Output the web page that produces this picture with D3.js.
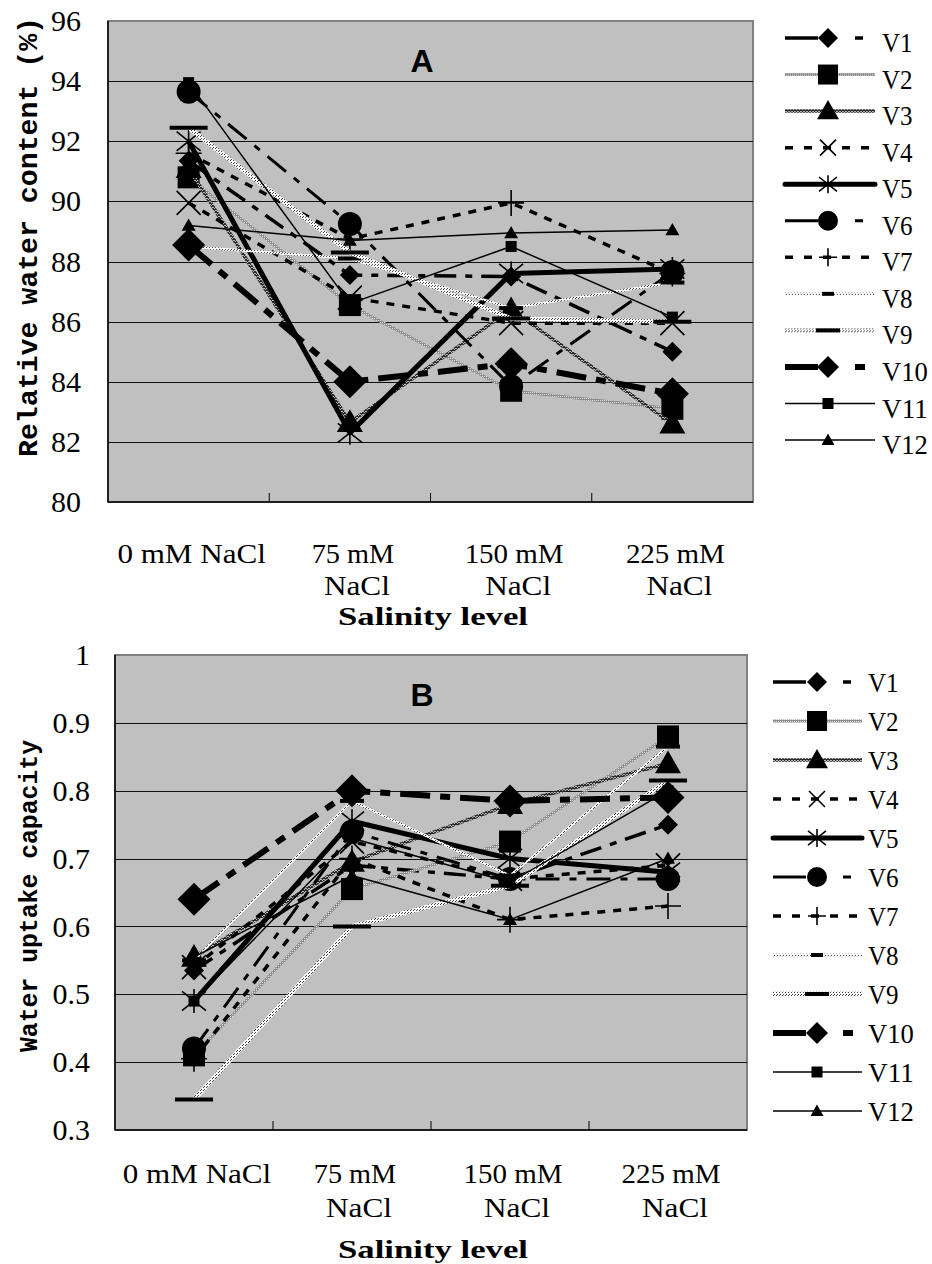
<!DOCTYPE html>
<html>
<head>
<meta charset="utf-8">
<script src="https://cdn.jsdelivr.net/npm/d3@7"></script>
<style>
  body { margin: 0; background: #fff; }
  svg { display: block; }
</style>
</head>
<body>
<div id="chart"></div>
<script>
// ---- data ----
const series = ["V1", "V2", "V3", "V4", "V5", "V6", "V7", "V8", "V9", "V10", "V11", "V12"];
const categories = [["0 mM NaCl"], ["75 mM", "NaCl"], ["150 mM", "NaCl"], ["225 mM", "NaCl"]];
const rwcTicks = [80, 82, 84, 86, 88, 90, 92, 94, 96];
const wucTicks = [0.3, 0.4, 0.5, 0.6, 0.7, 0.8, 0.9, 1];

// relative water content (%), one row per variety, columns = salinity levels
const rwcValues = [
  [91.35, 87.55, 87.5, 85.0],
  [90.8, 86.55, 83.7, 83.1],
  [91.1, 82.65, 86.4, 82.6],
  [89.95, 86.8, 85.95, 85.95],
  [92.0, 82.3, 87.6, 87.75],
  [93.65, 89.25, 83.85, 87.65],
  [91.6, 88.75, 89.95, 87.6],
  [88.5, 88.1, 86.45, 87.3],
  [92.45, 88.3, 86.1, 86.0],
  [88.55, 84.0, 84.6, 83.6],
  [93.95, 86.6, 88.5, 86.15],
  [89.2, 88.7, 88.95, 89.05]
];

// water uptake capacity
const wucValues = [
  [0.535, 0.69, 0.67, 0.75],
  [0.41, 0.655, 0.725, 0.88],
  [0.555, 0.695, 0.78, 0.84],
  [0.54, 0.725, 0.67, 0.69],
  [0.49, 0.755, 0.70, 0.68],
  [0.42, 0.74, 0.67, 0.67],
  [0.405, 0.70, 0.61, 0.63],
  [0.55, 0.785, 0.675, 0.865],
  [0.345, 0.60, 0.66, 0.815],
  [0.64, 0.80, 0.785, 0.79],
  [0.49, 0.73, 0.665, 0.80],
  [0.555, 0.675, 0.61, 0.70]
];

// line / marker look per variety
const styles = [
  { stroke: "#000", w: 3.5, dash: "22,9,7,9", ldash: "33,37,8,30", mk: "diamond", ms: 10, lms: 10 },
  { stroke: "url(#texMid)", w: 3, dash: null, mk: "square", ms: 11, lms: 10 },
  { stroke: "url(#texDark)", w: 3.5, dash: null, mk: "triangle", ms: 13, lms: 11 },
  { stroke: "#000", w: 3.5, dash: "8,8", ldash: "8,11", mk: "x", ms: 12, lms: 8 },
  { stroke: "#000", w: 5, dash: null, mk: "star", ms: 12, lms: 9, cap: "round" },
  { stroke: "#000", w: 3, dash: "24,10,7,10", ldash: "33,37,8,30", mk: "circle", ms: 12, lms: 10 },
  { stroke: "#000", w: 3.5, dash: "8,8", ldash: "8,11", mk: "plus", ms: 13, lms: 9 },
  { stroke: "url(#texLight)", w: 2.5, dash: null, mk: "bar", ms: 12, lms: 6 },
  { stroke: "url(#texLight)", w: 4.5, dash: null, mk: "bar", ms: 19, lms: 12 },
  { stroke: "#000", w: 6, dash: "30,10,10,10", ldash: "33,37,10,30", mk: "diamond", ms: 16.5, lms: 11 },
  { stroke: "#000", w: 1.5, dash: null, mk: "square", ms: 5.5, lms: 5.5 },
  { stroke: "#000", w: 1.5, dash: null, mk: "triangle", ms: 7, lms: 6.5 }
];

const panels = [
  {
    values: rwcValues, ticks: rwcTicks, min: 80, max: 96,
    left: 108, right: 753, top: 21, bottom: 502, tickPad: 27,
    title: "Relative water content (%)", titleLen: 440, titleSize: 28, titleY: 237,
    letter: "A", lab1: 563, lab2: 595, labX: 625,
    legLine: [785, 875], legMark: 828, legText: 882, legY0: 38, legDy: 36.55, legBase: 14
  },
  {
    values: wucValues, ticks: wucTicks, min: 0.3, max: 1,
    left: 115, right: 747, top: 655, bottom: 1130, tickPad: 25,
    title: "Water uptake capacity", titleLen: 312, titleSize: 25, titleY: 896,
    letter: "B", lab1: 1183, lab2: 1217, labX: 1258,
    legLine: [773, 862], legMark: 817, legText: 868, legY0: 682, legDy: 39, legBase: 10
  }
];

const W = 932, H = 1264;
const svg = d3.select("#chart").append("svg").attr("width", W).attr("height", H);

// textures for the hatched lines
const defs = svg.append("defs");
function texture(id, bg, fg, size, dots) {
  const p = defs.append("pattern").attr("id", id)
    .attr("patternUnits", "userSpaceOnUse").attr("width", size).attr("height", size);
  p.append("rect").attr("width", size).attr("height", size).attr("fill", bg);
  dots.forEach(d => p.append("rect").attr("x", d[0]).attr("y", d[1]).attr("width", 1).attr("height", 1).attr("fill", fg));
}
texture("texMid", "#8c8c8c", "#e0e0e0", 2, [[0, 0]]);
texture("texDark", "#2a2a2a", "#b8b8b8", 3, [[0, 0], [1, 1], [2, 0]]);
texture("texLight", "#ffffff", "#444", 3, [[0, 0], [2, 1]]);

// marker shapes centred on 0,0
function markerPath(type, s) {
  switch (type) {
    case "diamond": return `M0,${-s}L${s},0L0,${s}L${-s},0Z`;
    case "square": return `M${-s},${-s}h${2 * s}v${2 * s}h${-2 * s}Z`;
    case "triangle": return `M0,${-s}L${s},${s * 0.75}L${-s},${s * 0.75}Z`;
    case "circle": return `M${-s},0A${s},${s} 0 1,0 ${s},0A${s},${s} 0 1,0 ${-s},0Z`;
    case "x": return `M${-s},${-s}L${s},${s}M${s},${-s}L${-s},${s}`;
    case "star": return `M${-s},${-s * 0.8}L${s},${s * 0.8}M${s},${-s * 0.8}L${-s},${s * 0.8}M0,${-s}V${s}`;
    case "plus": return `M${-s},0H${s}M0,${-s}V${s}`;
    case "bar": return `M${-s},-2h${2 * s}v4h${-2 * s}Z`;
  }
}
const openMarker = t => t === "x" || t === "star" || t === "plus";

function styleMarker(sel, st) {
  sel.attr("fill", openMarker(st.mk) ? "none" : "#000")
    .attr("stroke", openMarker(st.mk) ? "#000" : "none")
    .attr("stroke-width", 1.6);
}

const serif = "'Liberation Serif', 'DejaVu Serif', serif";

panels.forEach(cfg => {
  const g = svg.append("g");

  const y = d3.scaleLinear().domain([cfg.min, cfg.max]).range([cfg.bottom, cfg.top]);
  const x = d3.scaleBand().domain(d3.range(categories.length)).range([cfg.left, cfg.right]);
  const cx = i => x(i) + x.bandwidth() / 2;

  // plot area
  g.append("rect")
    .attr("x", cfg.left).attr("y", cfg.top)
    .attr("width", cfg.right - cfg.left).attr("height", cfg.bottom - cfg.top)
    .attr("fill", "#c0c0c0").attr("stroke", "#808080").attr("stroke-width", 2);

  g.append("g").selectAll("line")
    .data(cfg.ticks.slice(1, -1))
    .join("line")
    .attr("x1", cfg.left).attr("x2", cfg.right)
    .attr("y1", d => Math.round(y(d)) + 0.5).attr("y2", d => Math.round(y(d)) + 0.5)
    .attr("stroke", "#111").attr("stroke-width", 1);

  // axes lines
  g.append("line").attr("x1", cfg.left).attr("x2", cfg.left)
    .attr("y1", cfg.top).attr("y2", cfg.bottom).attr("stroke", "#000").attr("stroke-width", 1.5);
  g.append("line").attr("x1", cfg.left).attr("x2", cfg.right)
    .attr("y1", cfg.bottom).attr("y2", cfg.bottom).attr("stroke", "#000").attr("stroke-width", 1.5);

  // category boundary ticks
  g.append("g").selectAll("line")
    .data(d3.range(1, categories.length))
    .join("line")
    .attr("x1", d => x(d)).attr("x2", d => x(d))
    .attr("y1", cfg.bottom).attr("y2", cfg.bottom - 9)
    .attr("stroke", "#000").attr("stroke-width", 1);

  // y tick labels
  const ya = g.append("g").attr("transform", `translate(${cfg.left},0)`)
    .call(d3.axisLeft(y).tickValues(cfg.ticks).tickSize(0).tickPadding(cfg.tickPad).tickFormat(d3.format("")));
  ya.select(".domain").remove();
  ya.selectAll("text").attr("font-family", serif).attr("font-size", 30).attr("fill", "#000");

  // x category labels, two lines
  categories.forEach((lines, i) => {
    lines.forEach((t, k) => {
      g.append("text")
        .attr("x", cx(i) + (k ? 7 : 3))
        .attr("y", k ? cfg.lab2 : cfg.lab1)
        .attr("text-anchor", "middle")
        .attr("font-family", serif).attr("font-size", 27)
        .attr("textLength", t.length * 16.5).attr("lengthAdjust", "spacingAndGlyphs")
        .text(t);
    });
  });

  g.append("text")
    .attr("x", 433).attr("y", cfg.labX)
    .attr("text-anchor", "middle")
    .attr("font-family", serif).attr("font-weight", "bold").attr("font-size", 26)
    .attr("textLength", 190).attr("lengthAdjust", "spacingAndGlyphs")
    .text("Salinity level");

  // y title
  g.append("text")
    .attr("transform", `translate(37,${cfg.titleY}) rotate(-90)`)
    .attr("text-anchor", "middle")
    .attr("font-family", "'Liberation Mono', 'DejaVu Sans Mono', monospace")
    .attr("font-weight", "bold").attr("font-size", cfg.titleSize)
    .attr("textLength", cfg.titleLen).attr("lengthAdjust", "spacingAndGlyphs")
    .text(cfg.title);

  // panel letter
  g.append("text")
    .attr("x", 422).attr("y", cfg.top + 51)
    .attr("text-anchor", "middle")
    .attr("font-family", "'Liberation Sans', Arial, sans-serif")
    .attr("font-weight", "bold").attr("font-size", 32)
    .text(cfg.letter);

  // series
  const line = d3.line().x((d, i) => cx(i)).y(d => y(d));
  cfg.values.forEach((vals, si) => {
    const st = styles[si];
    const sg = g.append("g");
    sg.append("path")
      .attr("d", line(vals))
      .attr("fill", "none")
      .attr("stroke", st.stroke)
      .attr("stroke-width", st.w)
      .attr("stroke-dasharray", st.dash)
      .attr("stroke-linejoin", "round");
    sg.selectAll("path.mk")
      .data(vals)
      .join("path")
      .attr("class", "mk")
      .attr("transform", (d, i) => `translate(${cx(i)},${y(d)})`)
      .attr("d", markerPath(st.mk, st.ms))
      .call(styleMarker, st);
  });

  // legend
  const leg = g.append("g").selectAll("g")
    .data(series)
    .join("g")
    .attr("transform", (d, i) => `translate(0,${cfg.legY0 + i * cfg.legDy})`);
  leg.append("line")
    .attr("x1", cfg.legLine[0]).attr("x2", cfg.legLine[1])
    .attr("stroke", (d, i) => styles[i].stroke)
    .attr("stroke-width", (d, i) => styles[i].w)
    .attr("stroke-dasharray", (d, i) => styles[i].ldash || null)
    .attr("stroke-linecap", (d, i) => styles[i].cap || "butt");
  leg.append("path")
    .attr("transform", `translate(${cfg.legMark},0)`)
    .attr("d", (d, i) => markerPath(styles[i].mk, styles[i].lms))
    .each(function (d, i) { d3.select(this).call(styleMarker, styles[i]); });
  leg.append("text")
    .attr("x", cfg.legText).attr("y", cfg.legBase)
    .attr("font-family", serif).attr("font-size", 28)
    .attr("textLength", d => d.length * 15.3).attr("lengthAdjust", "spacingAndGlyphs")
    .text(d => d);
});
</script>
</body>
</html>
